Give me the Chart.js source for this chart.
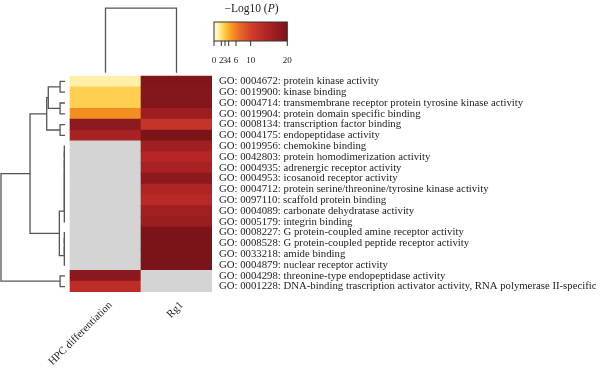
<!DOCTYPE html>
<html><head><meta charset="utf-8">
<script src="https://cdn.jsdelivr.net/npm/chart.js@4.4.1/dist/chart.umd.min.js"></script>
<style>html,body{margin:0;padding:0;background:#fff;}canvas{display:block;}</style>
</head><body>
<canvas id="c" width="600" height="368"></canvas>
<script>
// ---------- data ----------
const rowLabels = [
  'GO: 0004672: protein kinase activity',
  'GO: 0019900: kinase binding',
  'GO: 0004714: transmembrane receptor protein tyrosine kinase activity',
  'GO: 0019904: protein domain specific binding',
  'GO: 0008134: transcription factor binding',
  'GO: 0004175: endopeptidase activity',
  'GO: 0019956: chemokine binding',
  'GO: 0042803: protein homodimerization activity',
  'GO: 0004935: adrenergic receptor activity',
  'GO: 0004953: icosanoid receptor activity',
  'GO: 0004712: protein serine/threonine/tyrosine kinase activity',
  'GO: 0097110: scaffold protein binding',
  'GO: 0004089: carbonate dehydratase activity',
  'GO: 0005179: integrin binding',
  'GO: 0008227: G protein-coupled amine receptor activity',
  'GO: 0008528: G protein-coupled peptide receptor activity',
  'GO: 0033218: amide binding',
  'GO: 0004879: nuclear receptor activity',
  'GO: 0004298: threonine-type endopeptidase activity',
  'GO: 0001228: DNA-binding trascription activator activity, RNA polymerase II-specific'
];
const colLabels = ['HPC differentiation', 'Rg1'];
// -Log10(P) per row; null = not enriched (grey)
const hpcValues = [1.2, 2.7, 2.7, 5.3, 18.3, 15.3, null, null, null, null, null, null, null, null, null, null, null, null, 18.4, 13];
const rg1Values = [19.3, 19.0, 19.2, 16.5, 11.8, 20, 16.2, 14, 15.3, 18.3, 14.5, 13.5, 16.2, 16.8, 20, 20, 20, 20, null, null];
const colorbarTicks = [0, 2, 3, 4, 6, 10, 20];
const colorbarMax = 20;
// row dendrogram merges [childA, childB, height]; leaves are row indices 0..19, merges get ids 20, 21, ...
const rowMerges = [
  [0, 1, 0.07], [2, 3, 0.07], [20, 21, 0.236], [4, 5, 0.07], [22, 23, 0.258],
  [6, 7, 0.01], [25, 8, 0.01], [26, 9, 0.01], [27, 10, 0.01], [28, 11, 0.01], [29, 12, 0.01], [30, 13, 0.01],
  [14, 15, 0.01], [32, 16, 0.01], [33, 17, 0.01],
  [31, 34, 0.08], [24, 35, 0.493], [18, 19, 0.07], [36, 37, 0.902]
];
// column dendrogram merges [childA, childB, height]
const colMerges = [[0, 1, 5.99]];

// ---------- styles ----------
const colorStops = [
  [0, '#fffce6'], [1, '#fff3b4'], [2, '#ffe07a'], [3, '#ffc840'], [4, '#fbae30'], [5, '#f7941e'],
  [7, '#ea6a28'], [10, '#d2402a'], [14, '#b42626'], [17, '#981c20'], [20, '#7a1418']
];
const greyCell = '#d4d4d4';
const lineColor = '#555555';
const textColor = '#222222';
const serif = "'Liberation Serif', 'DejaVu Serif', serif";

function hex2rgb(h) { return [1, 3, 5].map(i => parseInt(h.substr(i, 2), 16)); }
function colorFor(v) {
  if (v === null || v === undefined) return greyCell;
  v = Math.max(0, Math.min(colorbarMax, v));
  for (let i = 1; i < colorStops.length; i++) {
    const [v1, c1] = colorStops[i];
    const [v0, c0] = colorStops[i - 1];
    if (v <= v1) {
      const t = (v - v0) / (v1 - v0);
      const a = hex2rgb(c0), b = hex2rgb(c1);
      return 'rgb(' + a.map((x, k) => Math.round(x + (b[k] - x) * t)).join(',') + ')';
    }
  }
  return colorStops[colorStops.length - 1][1];
}

// ---------- build cells ----------
const cells = [];
[hpcValues, rg1Values].forEach((vals, c) => {
  vals.forEach((v, r) => cells.push({ y: r, x: [c, c + 1], v: v }));
});

// ---------- build dendrogram line datasets ----------
const rowLeafGap = 0.07;   // x-units between heatmap and leaf tips
const colLeafGap = 0.3;    // y-units between heatmap and leaf tips
const dendroSets = [];
function lineSet(points) {
  return { type: 'line', data: points, borderColor: lineColor, borderWidth: 1.3, pointRadius: 0,
           pointHoverRadius: 0, tension: 0, fill: false, spanGaps: false, order: 0 };
}
(function () {
  const pos = rowLabels.map((_, i) => i), hgt = rowLabels.map(() => 0);
  const X = h => -(rowLeafGap + h);
  rowMerges.forEach(([a, b, d]) => {
    dendroSets.push(lineSet([
      { x: X(hgt[a]), y: pos[a] }, { x: X(d), y: pos[a] }, { x: X(d), y: pos[b] }, { x: X(hgt[b]), y: pos[b] }
    ]));
    pos.push((pos[a] + pos[b]) / 2); hgt.push(d);
  });
})();
(function () {
  const pos = colLabels.map((_, i) => i + 0.5), hgt = colLabels.map(() => 0);
  const Y = h => -0.5 - colLeafGap - h;
  colMerges.forEach(([a, b, d]) => {
    dendroSets.push(lineSet([
      { x: pos[a], y: Y(hgt[a]) }, { x: pos[a], y: Y(d) }, { x: pos[b], y: Y(d) }, { x: pos[b], y: Y(hgt[b]) }
    ]));
    pos.push((pos[a] + pos[b]) / 2); hgt.push(d);
  });
})();

// ---------- colour bar legend plugin ----------
const colorbarPlugin = {
  id: 'colorbar',
  afterDraw(chart) {
    const ctx = chart.ctx;
    const x0 = 214, x1 = 287.3, y0 = 22, y1 = 41;
    const px = v => x0 + (x1 - x0) * v / colorbarMax;
    ctx.save();
    const g = ctx.createLinearGradient(x0, 0, x1, 0);
    colorStops.forEach(([v, c]) => g.addColorStop(v / colorbarMax, c));
    ctx.fillStyle = g;
    ctx.fillRect(x0, y0, x1 - x0, y1 - y0);
    ctx.strokeStyle = '#333';
    ctx.lineWidth = 1;
    ctx.strokeRect(x0, y0, x1 - x0, y1 - y0);
    ctx.beginPath();
    colorbarTicks.forEach(t => { ctx.moveTo(px(t), y1); ctx.lineTo(px(t), y1 + 5); });
    ctx.stroke();
    ctx.fillStyle = textColor;
    ctx.font = '9px ' + serif;
    ctx.textAlign = 'center';
    ctx.textBaseline = 'alphabetic';
    colorbarTicks.forEach(t => ctx.fillText(String(t), px(t), 62.5));
    // title
    const fN = '11.5px ' + serif, fI = 'italic 11.5px ' + serif;
    const p1 = '\u2212Log10 (', p2 = 'P', p3 = ')';
    ctx.font = fN; const w1 = ctx.measureText(p1).width, w3 = ctx.measureText(p3).width;
    ctx.font = fI; const w2 = ctx.measureText(p2).width;
    let x = 251.5 - (w1 + w2 + w3) / 2;
    ctx.textAlign = 'left';
    ctx.font = fN; ctx.fillText(p1, x, 11.5); x += w1;
    ctx.font = fI; ctx.fillText(p2, x, 11.5); x += w2;
    ctx.font = fN; ctx.fillText(p3, x, 11.5);
    ctx.restore();
  }
};

function noPad(s) { s.paddingLeft = 0; s.paddingRight = 0; s.paddingTop = 0; s.paddingBottom = 0; }

new Chart(document.getElementById('c'), {
  type: 'bar',
  data: {
    datasets: [{
      type: 'bar', indexAxis: 'y', data: cells, order: 1,
      backgroundColor: ctx => colorFor(ctx.raw ? ctx.raw.v : null),
      borderWidth: 0, barPercentage: 1, categoryPercentage: 1, grouped: false
    }].concat(dendroSets)
  },
  options: {
    indexAxis: 'y',
    responsive: false, animation: false,
    layout: { padding: 0, autoPadding: false },
    plugins: { legend: { display: false }, tooltip: { enabled: false } },
    events: [],
    scales: {
      x: {
        type: 'linear', position: 'bottom', min: -0.986, max: 2, bounds: 'data', offset: false,
        grid: { display: false, drawTicks: false, offset: false }, border: { display: false },
        afterBuildTicks: s => { s.ticks = colLabels.map((_, i) => ({ value: i + 0.5 })); },
        afterFit: s => { s.height = 76; noPad(s); },
        ticks: { autoSkip: false, minRotation: 45, maxRotation: 45, padding: 7, labelOffset: 5, color: textColor,
                 font: { family: serif, size: 10.75 }, callback: (v, i) => colLabels[i] }
      },
      y: {
        type: 'linear', position: 'right', reverse: true, min: -7.537, max: 19.5, bounds: 'data', offset: false,
        grid: { display: false, drawTicks: false, offset: false }, border: { display: false },
        afterBuildTicks: s => { s.ticks = rowLabels.map((_, i) => ({ value: i })); },
        afterFit: s => { s.width = 388; noPad(s); },
        ticks: { autoSkip: false, padding: 7, color: textColor,
                 font: { family: serif, size: 10.75 }, callback: (v, i) => rowLabels[i] }
      }
    }
  },
  plugins: [colorbarPlugin]
});
</script>
</body></html>
